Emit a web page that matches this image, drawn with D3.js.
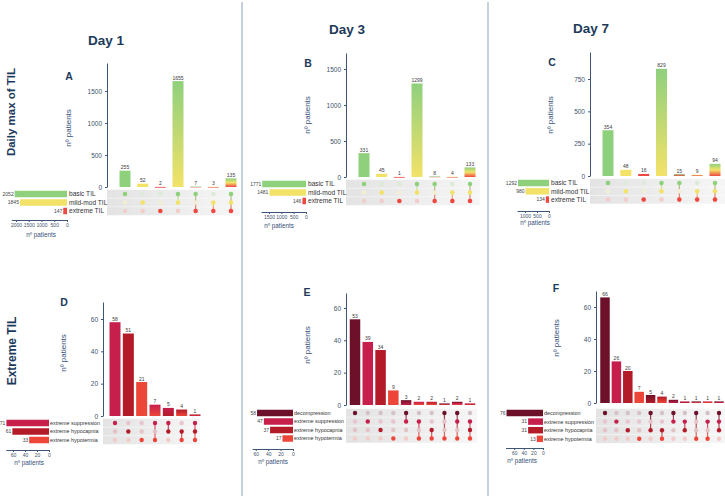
<!DOCTYPE html>
<html><head><meta charset="utf-8">
<script src="https://cdn.jsdelivr.net/npm/d3@7"></script>
<style>
body{margin:0;background:#fff;}
svg{display:block;font-family:"Liberation Sans",Arial,sans-serif;}
</style></head>
<body><svg id="c" width="725" height="500"></svg>
<script>
// ---------------- DATA ----------------
const dayTitles = ["Day 1", "Day 3", "Day 7"];
const rowTitles = ["Daily max of TIL", "Extreme TIL"];
const panelLetters = ["A", "B", "C", "D", "E", "F"];

const tilSets = ["basic TIL", "mild-mod TIL", "extreme TIL"];
const tilCombos = [[0], [1], [2], [0, 1], [0, 2], [1, 2], [0, 1, 2]];
const day1Counts = [255, 52, 2, 1655, 7, 3, 135];
const day1Sizes = [2052, 1845, 147];
const day3Counts = [331, 45, 1, 1299, 8, 4, 133];
const day3Sizes = [1771, 1481, 146];
const day7Counts = [354, 48, 16, 829, 15, 9, 94];
const day7Sizes = [1292, 980, 134];

const extSets1 = ["extreme suppression", "extreme hypocapnia", "extreme hypotermia"];
const extCombos1 = [[0], [1], [2], [0, 2], [0, 1], [1, 2], [0, 1, 2]];
const ext1Counts = [58, 51, 21, 7, 5, 4, 1];
const ext1Sizes = [71, 61, 33];

const extSets = ["decompression", "extreme suppression", "extreme hypocapnia", "extreme hypotermia"];
const extCombos3 = [[0], [1], [2], [3], [0, 1], [1, 3], [2, 3], [0, 3], [0, 1, 3], [1, 2, 3]];
const ext3Counts = [53, 39, 34, 9, 3, 2, 2, 1, 2, 1];
const ext3Sizes = [58, 47, 37, 17];
const extCombos7 = [[0], [1], [2], [3], [0, 2], [2, 3], [0, 1], [1, 2], [0, 3], [1, 3], [0, 1, 2]];
const ext7Counts = [66, 26, 20, 7, 5, 4, 2, 1, 1, 1, 1];
const ext7Sizes = [76, 31, 31, 13];

const topYTicks = [[0, 500, 1000, 1500], [0, 500, 1000, 1500], [0, 250, 500, 750]];
const topLeftTicks = [[0, 500, 1000, 1500, 2000], [0, 500, 1000, 1500], [0, 500, 1000]];
const botYTicks = [0, 20, 40, 60];
const botLeftTicks = [0, 20, 40, 60];

// ---------------- STYLE ----------------
const tilColors = ["#8fd07d", "#f3e268", "#ee4841"];
const extColors1 = ["#c61f4b", "#b31b29", "#ee4539"];
const extColors = ["#6c1129", "#c61f4b", "#b31b29", "#ee4539"];
const navy = "#1d3a5b";
const axisCol = "#3d5677";
const fmt = d3.format("d");

const svg = d3.select("#c");
const defs = svg.append("defs");
let gid = 0;

// separators
[242, 488].forEach(x => svg.append("line").attr("x1", x).attr("x2", x).attr("y1", 2).attr("y2", 496)
  .attr("stroke", "#b7c6d6").attr("stroke-width", 1.6));

// titles
[[106, dayTitles[0]], [347, dayTitles[1]], [591, dayTitles[2]]].forEach(([x, t], i) =>
  svg.append("text").attr("x", x).attr("y", [44.5, 33.5, 32.5][i]).attr("text-anchor", "middle")
    .attr("font-size", 13.5).attr("font-weight", "bold").attr("fill", navy).text(t));
[[10, 112, rowTitles[0], 11.5], [11, 351, rowTitles[1], 12]].forEach(([x, y, t, fs]) =>
  svg.append("text").attr("transform", `translate(${x + 4.5},${y}) rotate(-90)`).attr("text-anchor", "middle")
    .attr("font-size", fs).attr("font-weight", "bold").attr("fill", navy).text(t));

function upset(c) {
  const g = svg.append("g");
  const n = c.counts.length;
  const y = d3.scaleLinear().domain([0, (c.baseY - c.topY) / c.slope]).range([c.baseY, c.topY]);
  const x = d3.scalePoint().domain(d3.range(n)).range([c.x0, c.x1]);
  const rowY = i => c.rows[0] + i * c.rowGap;
  const nr = c.sets.length;

  // matrix background
  const bgId = "bg" + (gid++);
  const lg = defs.append("linearGradient").attr("id", bgId);
  lg.append("stop").attr("offset", 0).attr("stop-color", "#e3e3e3");
  lg.append("stop").attr("offset", 1).attr("stop-color", "#f6f6f6");
  g.append("rect").attr("x", c.axisX).attr("y", rowY(0) - c.rowGap / 2)
    .attr("width", c.bgRight - c.axisX).attr("height", nr * c.rowGap).attr("fill", `url(#${bgId})`);
  for (let i = 1; i < nr; i++)
    g.append("line").attr("x1", c.axisX).attr("x2", c.bgRight)
      .attr("y1", rowY(i) - c.rowGap / 2).attr("y2", rowY(i) - c.rowGap / 2)
      .attr("stroke", "#fff").attr("stroke-width", 0.6).attr("opacity", 0.8);

  // bars
  c.counts.forEach((v, j) => {
    const combo = c.combos[j];
    let fill;
    if (combo.length === 1) fill = c.colors[combo[0]];
    else {
      const id = "bar" + (gid++);
      const gr = defs.append("linearGradient").attr("id", id).attr("x1", 0).attr("x2", 0).attr("y1", 0).attr("y2", 1);
      combo.forEach((s, k) => gr.append("stop").attr("offset", k / (combo.length - 1)).attr("stop-color", c.colors[s]));
      fill = `url(#${id})`;
    }
    g.append("rect").attr("x", x(j) - c.barW / 2).attr("y", y(v)).attr("width", c.barW)
      .attr("height", Math.max(0.8, c.baseY - y(v))).attr("fill", fill);
    g.append("text").attr("x", x(j)).attr("y", Math.min(y(v), c.baseY - 0.8) - 1.5).attr("text-anchor", "middle")
      .attr("font-size", 5).attr("fill", "#3a3a3a").text(v);
  });

  // y axis
  const ax = g.append("g").attr("transform", `translate(${c.axisX},0)`)
    .call(d3.axisLeft(y).tickValues(c.yTicks).tickFormat(fmt).tickSize(2).tickSizeOuter(0));
  ax.select(".domain").attr("stroke", axisCol).attr("stroke-width", 1);
  ax.selectAll(".tick line").attr("stroke", axisCol);
  ax.selectAll("text").attr("font-size", 6.5).attr("fill", "#41536b").attr("font-family", "Liberation Sans, Arial");
  g.append("text").attr("transform", `translate(${c.yTitle[0]},${c.yTitle[1]}) rotate(-90)`)
    .attr("text-anchor", "middle").attr("font-size", 8).attr("fill", "#34507a").text("nº patients");
  g.append("text").attr("x", c.letter[0]).attr("y", c.letter[1]).attr("text-anchor", "middle")
    .attr("font-size", 10.5).attr("font-weight", "bold").attr("fill", navy).text(c.letterText);

  // matrix dots & connectors
  c.counts.forEach((v, j) => {
    const combo = c.combos[j];
    if (combo.length > 1) {
      const a = d3.min(combo), b = d3.max(combo);
      const id = "ln" + (gid++);
      const gr = defs.append("linearGradient").attr("id", id).attr("gradientUnits", "userSpaceOnUse")
        .attr("x1", 0).attr("x2", 0).attr("y1", rowY(a)).attr("y2", rowY(b));
      gr.append("stop").attr("offset", 0).attr("stop-color", c.colors[a]);
      gr.append("stop").attr("offset", 1).attr("stop-color", c.colors[b]);
      g.append("rect").attr("x", x(j) - 0.6).attr("y", rowY(a)).attr("width", 1.2)
        .attr("height", rowY(b) - rowY(a)).attr("fill", `url(#${id})`).attr("opacity", 0.8);
    }
    for (let i = 0; i < nr; i++) {
      const on = combo.includes(i);
      g.append("circle").attr("cx", x(j)).attr("cy", rowY(i)).attr("r", c.dotR)
        .attr("fill", on ? c.colors[i] : d3.interpolateRgb(c.colors[i], "#f2f2f2")(0.78));
    }
  });

  // set size bars
  const lx = d3.scaleLinear().domain([0, c.leftMax]).range([c.leftRight, c.leftRight - c.leftMax * c.lslope]);
  c.sizes.forEach((v, i) => {
    g.append("rect").attr("x", lx(v)).attr("y", rowY(i) - c.setBarH / 2).attr("width", c.leftRight - lx(v))
      .attr("height", c.setBarH).attr("fill", c.colors[i]);
    g.append("text").attr("x", lx(v) - 1).attr("y", rowY(i) + 1.8).attr("text-anchor", "end")
      .attr("font-size", 5).attr("fill", "#444").text(v);
    g.append("text").attr("x", c.leftRight + c.labelPad).attr("y", rowY(i) + c.labelSize * 0.36)
      .attr("font-size", c.labelSize).attr("fill", "#333").text(c.sets[i]);
  });
  const lax = g.append("g").attr("transform", `translate(0,${c.leftAxisY})`)
    .call(d3.axisBottom(lx).tickValues(c.leftTicks).tickFormat(fmt).tickSize(2).tickSizeOuter(0));
  lax.select(".domain").attr("stroke", axisCol);
  lax.selectAll(".tick line").attr("stroke", axisCol);
  lax.selectAll("text").attr("font-size", 5).attr("fill", "#41536b").attr("dy", "0.4em").attr("font-family", "Liberation Sans, Arial");
  g.append("text").attr("x", c.leftTitle[0]).attr("y", c.leftTitle[1]).attr("text-anchor", "middle")
    .attr("font-size", 6.3).attr("fill", "#34507a").text("nº patients");
}

const topCommon = { sets: tilSets, combos: tilCombos, colors: tilColors, barW: 11, dotR: 2.3, setBarH: 6.5, labelSize: 6.6, labelPad: 2 };
upset(Object.assign({}, topCommon, {
  counts: day1Counts, sizes: day1Sizes, yTicks: topYTicks[0], leftTicks: topLeftTicks[0],
  axisX: 107, baseY: 187, topY: 63, slope: 0.064, x0: 125, x1: 231, rows: [194], rowGap: 8.5, bgRight: 240,
  leftRight: 67, lslope: 0.0255, leftMax: 2180, leftAxisY: 220, leftTitle: [41, 237],
  yTitle: [71, 128], letter: [69, 80], letterText: panelLetters[0]
}));
upset(Object.assign({}, topCommon, {
  counts: day3Counts, sizes: day3Sizes, yTicks: topYTicks[1], leftTicks: topLeftTicks[1],
  axisX: 346, baseY: 177, topY: 53, slope: 0.072, x0: 364, x1: 470, rows: [184], rowGap: 8.5, bgRight: 480,
  leftRight: 306, lslope: 0.0247, leftMax: 1820, leftAxisY: 212, leftTitle: [279, 228],
  yTitle: [310, 115], letter: [308, 67], letterText: panelLetters[1]
}));
upset(Object.assign({}, topCommon, {
  counts: day7Counts, sizes: day7Sizes, yTicks: topYTicks[2], leftTicks: topLeftTicks[2],
  axisX: 590, baseY: 176, topY: 52, slope: 0.1293, x0: 608, x1: 715, rows: [183], rowGap: 8.3, bgRight: 725,
  leftRight: 549, lslope: 0.024, leftMax: 1330, leftAxisY: 211, leftTitle: [535, 225],
  yTitle: [553, 115], letter: [552, 66], letterText: panelLetters[2]
}));

const botCommon = { dotR: 2.2, setBarH: 6.5, labelSize: 5.4, labelPad: 1, yTicks: botYTicks, leftTicks: botLeftTicks };
upset(Object.assign({}, botCommon, {
  sets: extSets1, combos: extCombos1, colors: extColors1, counts: ext1Counts, sizes: ext1Sizes, barW: 11,
  axisX: 103, baseY: 416, topY: 302, slope: 1.617, x0: 115, x1: 195, rows: [423], rowGap: 8.5, bgRight: 200,
  leftRight: 49, lslope: 0.6, leftMax: 72, leftAxisY: 450, leftTitle: [29, 465],
  yTitle: [66, 353], letter: [64, 306], letterText: panelLetters[3]
}));
upset(Object.assign({}, botCommon, {
  sets: extSets, combos: extCombos3, colors: extColors, counts: ext3Counts, sizes: ext3Sizes, barW: 10.5,
  axisX: 346, baseY: 405, topY: 293, slope: 1.617, x0: 355, x1: 470, rows: [413], rowGap: 8.5, bgRight: 477,
  leftRight: 293, lslope: 0.62, leftMax: 66, leftAxisY: 449, leftTitle: [273, 464],
  yTitle: [310, 345], letter: [307, 296], letterText: panelLetters[4]
}));
upset(Object.assign({}, botCommon, {
  sets: extSets, combos: extCombos7, colors: extColors, counts: ext7Counts, sizes: ext7Sizes, barW: 9.5,
  axisX: 596, baseY: 403, topY: 291, slope: 1.6, x0: 605, x1: 719, rows: [413], rowGap: 8.6, bgRight: 725,
  leftRight: 543, lslope: 0.48, leftMax: 78, leftAxisY: 448, leftTitle: [522, 463],
  yTitle: [559, 338], letter: [556, 292], letterText: panelLetters[5]
}));
</script></body></html>
